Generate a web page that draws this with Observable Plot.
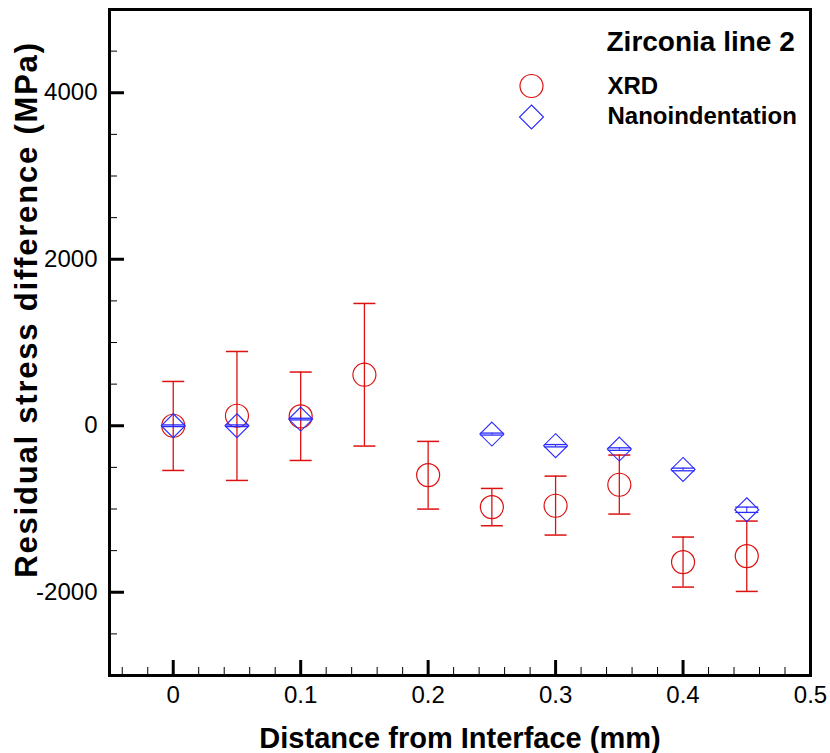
<!DOCTYPE html>
<html>
<head>
<meta charset="utf-8">
<script src="https://cdn.jsdelivr.net/npm/d3@7"></script>
<script src="https://cdn.jsdelivr.net/npm/@observablehq/plot@0.6"></script>
<style>
  html, body { margin: 0; padding: 0; background: #fff; }
</style>
</head>
<body>
<div id="chart"></div>
<script>
// ---- data ----
const positions = [0, 0.05, 0.1, 0.15, 0.2, 0.25, 0.3, 0.35, 0.4, 0.45];
const xrdValue  = [0, 120, 112, 613, -593, -977, -961, -709, -1638, -1566];
const xrdHigh   = [532, 892, 645, 1469, -188, -753, -605, -352, -1337, -1145];
const xrdLow    = [-537, -657, -417, -244, -1001, -1201, -1313, -1061, -1938, -1990];

const nanoPositions = [0, 0.05, 0.1, 0.25, 0.3, 0.35, 0.4, 0.45];
const nanoValue     = [0, 0, 80, -100, -240, -280, -525, -1009];
const nanoError     = [10, 10, 10, 12, 14, 15, 16, 32];

const xTicks = [0, 0.1, 0.2, 0.3, 0.4, 0.5];
const xMinorTicks = [-0.04, -0.02, 0.02, 0.04, 0.06, 0.08, 0.12, 0.14, 0.16, 0.18,
  0.22, 0.24, 0.26, 0.28, 0.32, 0.34, 0.36, 0.38, 0.42, 0.44, 0.46, 0.48];
const yTicks = [-2000, 0, 2000, 4000];
const yMinorTicks = [-2500, -1500, -1000, -500, 500, 1000, 1500, 2500, 3000, 3500, 4500];

const titleText = "Zirconia line 2";
const seriesNames = ["XRD", "Nanoindentation"];
const xLabel = "Distance from Interface (mm)";
const yLabel = "Residual stress difference (MPa)";

// ---- tables ----
const xrd = positions.map((x, i) => ({x, y: xrdValue[i], lo: xrdLow[i], hi: xrdHigh[i]}));
const nano = nanoPositions.map((x, i) => ({x, y: nanoValue[i], lo: nanoValue[i] - nanoError[i], hi: nanoValue[i] + nanoError[i]}));

const RED = "#dd1111";
const BLUE = "#2a2aff";

const capSymbol = {
  draw(ctx, size) { const r = Math.sqrt(size / Math.PI); ctx.moveTo(-r, 0); ctx.lineTo(r, 0); }
};
const diamondSymbol = {
  draw(ctx, size) {
    const r = Math.sqrt(size / Math.PI);
    ctx.moveTo(0, -r); ctx.lineTo(r, 0); ctx.lineTo(0, r); ctx.lineTo(-r, 0); ctx.closePath();
  }
};

const chart = Plot.plot({
  width: 830,
  height: 753,
  marginLeft: 109,
  marginRight: 20,
  marginTop: 9,
  marginBottom: 78,
  style: {fontFamily: "'Liberation Sans', Arial, Helvetica, sans-serif", fontSize: "24px", color: "black", background: "white"},
  x: {domain: [-0.05, 0.5], label: null},
  y: {domain: [-3000, 5000], label: null},
  marks: [
    // ticks (inward)
    Plot.axisY(yMinorTicks, {anchor: "left", tickSize: 8, dx: 8, fill: "none", strokeWidth: 1, label: null}),
    Plot.axisY(yTicks, {anchor: "left", tickSize: 15, dx: 15, fill: "none", strokeWidth: 3, label: null}),
    Plot.axisY(yTicks, {anchor: "left", tickSize: 0, tickPadding: 12, tickFormat: d => String(d), stroke: "none", label: null}),
    Plot.axisX(xMinorTicks, {anchor: "bottom", tickSize: 8, dy: -8, fill: "none", strokeWidth: 1, label: null}),
    Plot.axisX(xTicks, {anchor: "bottom", tickSize: 15, dy: -15, fill: "none", strokeWidth: 3, label: null}),
    Plot.axisX(xTicks, {anchor: "bottom", tickSize: 0, tickPadding: 10, tickFormat: d => String(d), stroke: "none", label: null}),

    // XRD error bars
    Plot.ruleX(xrd, {x: "x", y1: "lo", y2: "hi", stroke: RED, strokeWidth: 1.3}),
    Plot.dot(xrd, {x: "x", y: "hi", symbol: capSymbol, r: 11, stroke: RED, strokeWidth: 1.5}),
    Plot.dot(xrd, {x: "x", y: "lo", symbol: capSymbol, r: 11, stroke: RED, strokeWidth: 1.5}),
    Plot.dot(xrd, {x: "x", y: "y", symbol: "circle", r: 11.5, stroke: RED, strokeWidth: 1.2, fill: "none"}),

    // Nanoindentation
    Plot.ruleX(nano, {x: "x", y1: "lo", y2: "hi", stroke: BLUE, strokeWidth: 1}),
    Plot.dot(nano, {x: "x", y: "hi", symbol: capSymbol, r: 11.5, stroke: BLUE, strokeWidth: 1.3}),
    Plot.dot(nano, {x: "x", y: "lo", symbol: capSymbol, r: 11.5, stroke: BLUE, strokeWidth: 1.3}),
    Plot.dot(nano, {x: "x", y: "y", symbol: diamondSymbol, r: 12, stroke: BLUE, strokeWidth: 1.1, fill: "none"}),

    // legend
    Plot.text([titleText], {text: d => d, frameAnchor: "top-left", dx: 497, dy: 32.5, textAnchor: "start", lineAnchor: "middle", fontWeight: "bold", fontSize: 28}),
    Plot.dot([seriesNames[0]], {frameAnchor: "top-left", dx: 422, dy: 76.5, symbol: "circle", r: 11.5, stroke: RED, strokeWidth: 1.2, fill: "none"}),
    Plot.text([seriesNames[0]], {text: d => d, frameAnchor: "top-left", dx: 498, dy: 77, textAnchor: "start", lineAnchor: "middle", fontWeight: "bold", fontSize: 24}),
    Plot.dot([seriesNames[1]], {frameAnchor: "top-left", dx: 422, dy: 107.5, symbol: diamondSymbol, r: 12, stroke: BLUE, strokeWidth: 1.1, fill: "none"}),
    Plot.text([seriesNames[1]], {text: d => d, frameAnchor: "top-left", dx: 498, dy: 107, textAnchor: "start", lineAnchor: "middle", fontWeight: "bold", fontSize: 24}),

    // axis titles
    Plot.text([xLabel], {text: d => d, frameAnchor: "bottom", dy: 63, textAnchor: "middle", lineAnchor: "middle", fontWeight: "bold", fontSize: 29}),
    Plot.text([yLabel], {text: d => d, frameAnchor: "left", dx: -82, dy: -33, rotate: -90, textAnchor: "middle", lineAnchor: "middle", fontWeight: "bold", fontSize: 31}),

    Plot.frame({stroke: "black", strokeWidth: 3})
  ]
});

chart.querySelectorAll("text").forEach(t => {
  if (t.textContent === yLabel) t.setAttribute("letter-spacing", "1.8");
});

document.getElementById("chart").appendChild(chart);
</script>
</body>
</html>
